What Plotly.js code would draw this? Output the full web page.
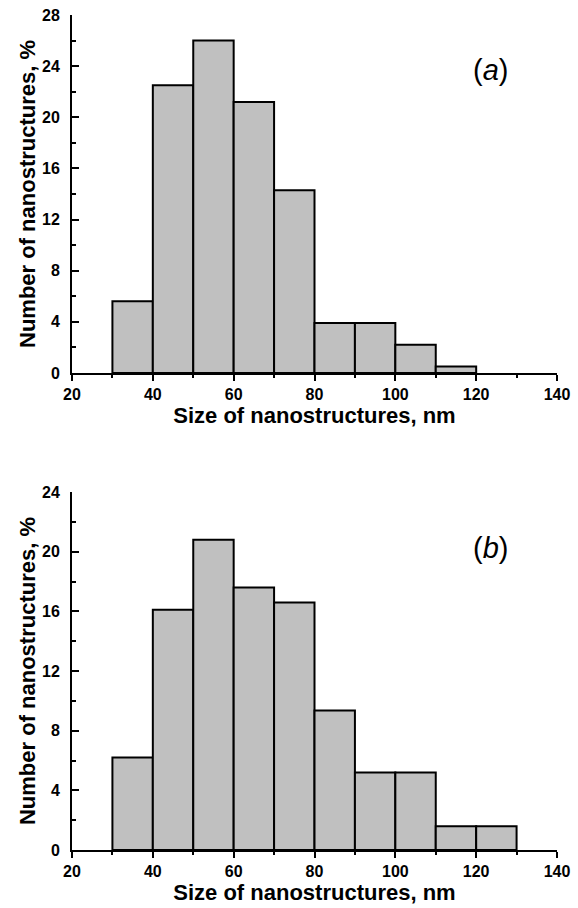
<!DOCTYPE html>
<html>
<head>
<meta charset="utf-8">
<script src="https://cdn.plot.ly/plotly-3.0.1.min.js"></script>
<style>
html,body{margin:0;padding:0;background:#fff;}
#chart{width:578px;height:908px;}
</style>
</head>
<body>
<div id="chart"></div>
<script>
// Bin left edges (nm) and percentages
const binStartsA = [30, 40, 50, 60, 70, 80, 90, 100, 110];
const percentA   = [5.6, 22.5, 26.0, 21.2, 14.3, 3.9, 3.9, 2.2, 0.5];
const binStartsB = [30, 40, 50, 60, 70, 80, 90, 100, 110, 120];
const percentB   = [6.2, 16.1, 20.8, 17.6, 16.6, 9.35, 5.2, 5.2, 1.6, 1.6];
const xTicks = [20, 40, 60, 80, 100, 120, 140];
const yTicksA = [0, 4, 8, 12, 16, 20, 24, 28];
const yTicksB = [0, 4, 8, 12, 16, 20, 24];

const FONT = 'Arial, "Liberation Sans", sans-serif';
const barStyle = {color: '#c0c0c0', line: {color: '#000', width: 2}};
const bold = v => '<b>' + v + '</b>';

const traces = [
  {type: 'bar', x: binStartsA, y: percentA, width: 10, offset: 0,
   marker: barStyle, xaxis: 'x', yaxis: 'y', hoverinfo: 'skip'},
  {type: 'bar', x: binStartsB, y: percentB, width: 10, offset: 0,
   marker: barStyle, xaxis: 'x2', yaxis: 'y2', hoverinfo: 'skip'}
];

function xAxis(anchor) {
  return {
    anchor: anchor, range: [20, 140], tickmode: 'array',
    tickvals: xTicks, ticktext: xTicks.map(bold),
    showline: true, linecolor: '#000', linewidth: 2,
    showgrid: false, zeroline: false,
    ticks: 'outside', ticklen: 6, tickwidth: 2, tickcolor: '#000',
    minor: {dtick: 10, tick0: 0, ticks: 'outside', ticklen: 3, tickwidth: 2, tickcolor: '#000', showgrid: false},
    tickfont: {family: FONT, size: 16, color: '#000'},
    title: {text: '<b>Size of nanostructures, nm</b>', font: {family: FONT, size: 22, color: '#000'}, standoff: 5}
  };
}
function yAxis(anchor, domain, top, vals) {
  return {
    anchor: anchor, domain: domain, range: [0, top], tickmode: 'array',
    tickvals: vals, ticktext: vals.map(bold),
    showline: true, linecolor: '#000', linewidth: 2,
    showgrid: false, zeroline: false,
    ticks: 'inside', ticklen: 7, tickwidth: 2, tickcolor: '#000',
    minor: {dtick: 2, tick0: 0, ticks: 'inside', ticklen: 4, tickwidth: 2, tickcolor: '#000', showgrid: false},
    tickfont: {family: FONT, size: 16, color: '#000'},
    ticklabelstandoff: 7,
    title: {text: '<b>Number of nanostructures, %</b>', font: {family: FONT, size: 22, color: '#000'}, standoff: 0}
  };
}

const layout = {
  width: 578, height: 908,
  margin: {l: 72, r: 21, t: 15, b: 58},
  paper_bgcolor: '#fff', plot_bgcolor: '#fff',
  showlegend: false, bargap: 0,
  xaxis: xAxis('y'),
  yaxis: yAxis('x', [0.5713, 1], 28, yTicksA),
  xaxis2: xAxis('y2'),
  yaxis2: yAxis('x2', [0, 0.4287], 24, yTicksB),
  annotations: [
    {text: '(<i>a</i>)', xref: 'paper', yref: 'paper', x: 0.863, y: 0.934,
     xanchor: 'center', yanchor: 'middle',
     showarrow: false, font: {family: FONT, size: 29, color: '#000'}},
    {text: '(<i>b</i>)', xref: 'paper', yref: 'paper', x: 0.863, y: 0.362,
     xanchor: 'center', yanchor: 'middle',
     showarrow: false, font: {family: FONT, size: 29, color: '#000'}}
  ]
};

Plotly.newPlot('chart', traces, layout, {staticPlot: true, displayModeBar: false});
</script>
</body>
</html>
